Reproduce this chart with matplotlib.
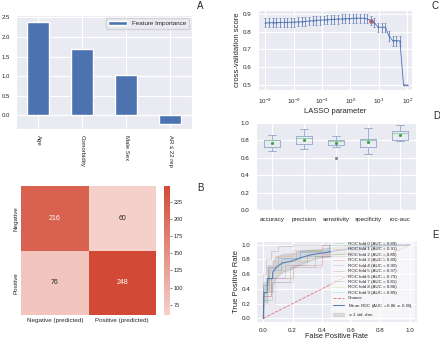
import numpy as np
import matplotlib
matplotlib.use('Agg')
import matplotlib.pyplot as plt
from matplotlib.colors import LinearSegmentedColormap
import seaborn as sns

sns.set_style('darkgrid')
plt.rcParams['font.family'] = ['Liberation Sans', 'DejaVu Sans']
plt.rcParams['font.size'] = 5

# --- A: feature importance
features = ['Age', 'Comorbidity', 'Male Sex', 'AR \u2264 22 rep']
importance = [2.39, 1.70, 1.035, -0.22]

# --- B: confusion matrix
cm_values = [[216, 60], [76, 248]]
cm_xlabels = ['Negative (predicted)', 'Positive (predicted)']
cm_ylabels = ['Negative', 'Positive']

# --- C: LASSO path (cross-validation)
lasso_scores = [0.850, 0.850, 0.851, 0.851, 0.852, 0.852, 0.853, 0.853,
                0.854, 0.855, 0.856, 0.858, 0.860, 0.862, 0.864, 0.865,
                0.866, 0.868, 0.869, 0.870, 0.871, 0.872, 0.873, 0.874,
                0.875, 0.876, 0.876, 0.876, 0.872, 0.862, 0.850, 0.825,
                0.825, 0.825, 0.775, 0.750, 0.750, 0.748, 0.500, 0.500]
lasso_std = [0.025] * 34 + [0.028, 0.028, 0.028, 0.028, 0.0, 0.0]
lasso_best = 29

# --- D: cross-validated metrics (box stats)
metrics = ['accuracy', 'precision', 'sensitivity', 'specificity', 'roc-auc']
m_whislo = [0.68, 0.70, 0.72, 0.64, 0.79]
m_q1 = [0.725, 0.76, 0.75, 0.725, 0.81]
m_med = [0.80, 0.83, 0.79, 0.81, 0.88]
m_q3 = [0.81, 0.847, 0.80, 0.82, 0.91]
m_whishi = [0.859, 0.93, 0.847, 0.937, 0.98]
m_mean = [0.77, 0.81, 0.765, 0.78, 0.86]
m_fliers = [[], [], [0.60], [], []]

# --- E: ROC curves
fold_auc = [0.89, 0.91, 0.80, 0.80, 0.90, 0.97, 0.79, 0.81, 0.86, 0.89]
fold_fpr = [
    [0, 0, 0.04, 0.04, 0.12, 0.12, 0.25, 0.25, 0.45, 0.45, 1],
    [0, 0, 0.03, 0.03, 0.08, 0.08, 0.2, 0.2, 0.4, 0.4, 1],
    [0, 0, 0.06, 0.06, 0.18, 0.18, 0.35, 0.35, 0.6, 0.6, 1],
    [0, 0, 0.05, 0.05, 0.2, 0.2, 0.4, 0.4, 0.65, 0.65, 1],
    [0, 0, 0.03, 0.03, 0.1, 0.1, 0.22, 0.22, 0.4, 0.4, 1],
    [0, 0, 0.02, 0.02, 0.05, 0.05, 0.1, 0.1, 0.2, 0.2, 1],
    [0, 0, 0.08, 0.08, 0.2, 0.2, 0.4, 0.4, 0.6, 0.6, 1],
    [0, 0, 0.05, 0.05, 0.15, 0.15, 0.3, 0.3, 0.55, 0.55, 1],
    [0, 0, 0.04, 0.04, 0.12, 0.12, 0.3, 0.3, 0.5, 0.5, 1],
    [0, 0, 0.03, 0.03, 0.1, 0.1, 0.25, 0.25, 0.45, 0.45, 1],
]
fold_tpr = [
    [0, 0.40, 0.40, 0.65, 0.65, 0.80, 0.80, 0.90, 0.90, 1, 1],
    [0, 0.45, 0.45, 0.70, 0.70, 0.85, 0.85, 0.93, 0.93, 1, 1],
    [0, 0.25, 0.25, 0.50, 0.50, 0.70, 0.70, 0.85, 0.85, 1, 1],
    [0, 0.30, 0.30, 0.55, 0.55, 0.72, 0.72, 0.88, 0.88, 1, 1],
    [0, 0.50, 0.50, 0.70, 0.70, 0.82, 0.82, 0.92, 0.92, 1, 1],
    [0, 0.60, 0.60, 0.80, 0.80, 0.92, 0.92, 0.98, 0.98, 1, 1],
    [0, 0.20, 0.20, 0.50, 0.50, 0.70, 0.70, 0.85, 0.85, 1, 1],
    [0, 0.30, 0.30, 0.55, 0.55, 0.72, 0.72, 0.85, 0.85, 1, 1],
    [0, 0.35, 0.35, 0.62, 0.62, 0.78, 0.78, 0.92, 0.92, 1, 1],
    [0, 0.45, 0.45, 0.68, 0.68, 0.82, 0.82, 0.93, 0.93, 1, 1],
]
mean_fpr = [0, 0.005, 0.027, 0.027, 0.064, 0.064, 0.09, 0.13, 0.2, 0.25, 0.32,
            0.38, 0.45, 0.5, 0.55, 0.6, 0.7, 0.85, 1.0]
mean_tpr = [0, 0.35, 0.35, 0.54, 0.54, 0.62, 0.70, 0.75, 0.78, 0.82, 0.86,
            0.88, 0.90, 0.92, 0.93, 0.95, 0.97, 0.99, 1.0]
std_tpr = [0, 0.12, 0.14, 0.18, 0.18, 0.16, 0.14, 0.12, 0.10, 0.09, 0.07,
           0.06, 0.06, 0.05, 0.05, 0.04, 0.03, 0.01, 0.0]
mean_auc, std_auc = 0.86, 0.06

W, H = 440.0, 341.0


def rect(x0, y0, x1, y1):
    return [x0 / W, 1 - y1 / H, (x1 - x0) / W, (y1 - y0) / H]


fig = plt.figure(figsize=(4.4, 3.41), dpi=100)
blue = '#4C72B0'

# A
axA = fig.add_axes(rect(16, 15, 192, 129))
xa = np.arange(len(features))
axA.bar(xa, importance, width=0.5, color=blue, label='Feature Importance')
axA.set_xticks(xa)
axA.set_xticklabels(features, rotation=-90, fontsize=4.3)
axA.set_xlim(-0.5, 3.5)
axA.set_ylim(-0.35, 2.56)
axA.tick_params(labelsize=4.3, pad=1)
axA.legend(loc='upper right', fontsize=4.5, handlelength=3)

# B
axB = fig.add_axes(rect(21, 186, 156, 315))
cax = fig.add_axes(rect(164, 186, 170, 315))
cmap = LinearSegmentedColormap.from_list('reds', ['#f5d0cb', '#d24a36'])
sns.heatmap(np.array(cm_values), annot=True, fmt='d', cmap=cmap, ax=axB,
            cbar_ax=cax, xticklabels=cm_xlabels, yticklabels=cm_ylabels,
            annot_kws={'fontsize': 5})
axB.set_yticklabels(cm_ylabels, rotation=90, va='center', fontsize=4.5)
axB.set_xticklabels(cm_xlabels, fontsize=4.5)
axB.tick_params(length=0, pad=2)
cax.tick_params(labelsize=4, length=1.5, width=0.4, pad=1)
cax.set_yticks([75, 100, 125, 150, 175, 200, 225])

# C
axC = fig.add_axes(rect(258, 10, 412, 90))
alphas = np.logspace(-3, 2, len(lasso_scores))
axC.errorbar(alphas, lasso_scores, yerr=lasso_std, color=blue, lw=0.6,
             elinewidth=0.5, capsize=0.8, capthick=0.4, marker='+',
             markersize=1.5, mew=0.4)
axC.plot(alphas[lasso_best], lasso_scores[lasso_best], 'o', color='#d9534f',
         markersize=2.5, alpha=0.8)
axC.set_xscale('log')
axC.set_xlim(10 ** -3.26, 10 ** 2.17)
axC.set_ylim(0.472, 0.922)
axC.set_xlabel('LASSO parameter', fontsize=5.5, labelpad=1)
axC.set_ylabel('cross-validation score', fontsize=5.5, labelpad=1)
axC.tick_params(labelsize=4.5, pad=1.5)
axC.minorticks_off()

# D
axD = fig.add_axes(rect(256, 123, 416, 210))
stats = []
for i, name in enumerate(metrics):
    stats.append(dict(label=name, whislo=m_whislo[i], q1=m_q1[i], med=m_med[i],
                      q3=m_q3[i], whishi=m_whishi[i], mean=m_mean[i],
                      fliers=m_fliers[i]))
boxc = '#8FA6CF'
axD.bxp(stats, showmeans=True, widths=0.5,
        boxprops=dict(color=boxc, lw=0.6),
        whiskerprops=dict(color=boxc, lw=0.6),
        capprops=dict(color=boxc, lw=0.6),
        medianprops=dict(color='#8CCB9B', lw=0.6),
        meanprops=dict(marker='o', markerfacecolor='#3aa655',
                       markeredgecolor='#3aa655', markersize=1.3),
        flierprops=dict(marker='o', markerfacecolor='#888888',
                        markeredgecolor='#888888', markersize=1.3))
axD.set_xlim(0.5, 5.5)
axD.set_ylim(0, 1.0)
axD.tick_params(labelsize=4.5, pad=1.5)

# E
axE = fig.add_axes(rect(256, 241, 417, 322))
for i in range(len(fold_auc)):
    axE.plot(fold_fpr[i], fold_tpr[i], lw=0.6, alpha=0.25,
             label='ROC fold %d (AUC = %0.2f)' % (i, fold_auc[i]))
axE.plot([0, 1], [0, 1], linestyle='--', lw=0.6, color='#d9534f', alpha=0.8,
         label='Chance')
axE.plot(mean_fpr, mean_tpr, color=blue, lw=0.8, alpha=0.9,
         label='Mean ROC (AUC = %0.2f $\\pm$ %0.2f)' % (mean_auc, std_auc))
lo = np.maximum(np.array(mean_tpr) - np.array(std_tpr), 0)
hi = np.minimum(np.array(mean_tpr) + np.array(std_tpr), 1)
axE.fill_between(mean_fpr, lo, hi, color='grey', alpha=0.2,
                 label='$\\pm$ 1 std. dev.')
axE.set_xlim(-0.05, 1.05)
axE.set_ylim(-0.05, 1.05)
axE.set_xlabel('False Positive Rate', fontsize=5.3, labelpad=0)
axE.set_ylabel('True Positive Rate', fontsize=5.5, labelpad=1)
axE.tick_params(labelsize=4.5, pad=0.8)
axE.legend(loc='lower right', fontsize=3.2, labelspacing=0.3, handlelength=2.5,
           frameon=True, facecolor='white', framealpha=0.6, edgecolor='none')

for letter, (px, py) in zip('ABCDE', [(200, 6), (200, 188), (435, 6), (437, 116), (435, 235)]):
    fig.text(px / W, 1 - py / H, letter, fontsize=7, ha='center', va='center')

fig.savefig('out.png', dpi=100)
